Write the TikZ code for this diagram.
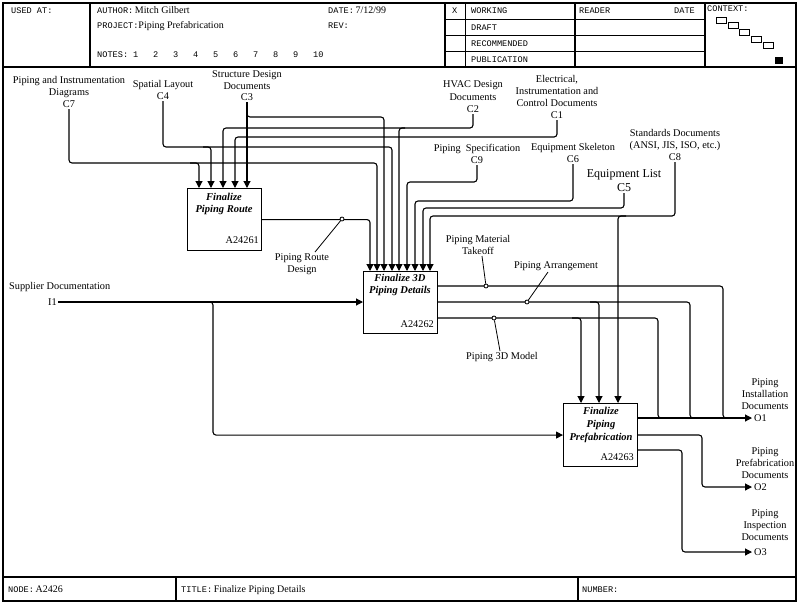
\documentclass[tikz,border=0pt]{standalone}
\usepackage{fontspec}
\setmainfont{Liberation Serif}
\newfontfamily\hdrfont{Liberation Mono}
\newcommand\hsz{\hdrfont\fontsize{8.6}{9}\selectfont}
\usetikzlibrary{arrows.meta}
\begin{document}
\begin{tikzpicture}[x=1pt,y=-1pt,
  flow/.style={line width=1.1pt, rounded corners=3pt, -{Triangle[width=7pt,length=7pt]}},
  wire/.style={line width=1.1pt, rounded corners=3pt},
  leader/.style={line width=0.8pt},
  dot/.style={circle, draw, fill=white, inner sep=0pt, minimum size=4pt, line width=0.8pt},
  actbox/.style={draw, line width=1.1pt, anchor=north west, minimum width=74pt, minimum height=62pt, inner sep=0pt},
  lbl/.style={font=\fontsize{10.3}{12}\selectfont, align=center, inner sep=1pt},
  ttl/.style={font=\fontsize{10.5}{12.5}\selectfont\bfseries\itshape, align=center, inner sep=0pt},
  num/.style={font=\fontsize{10.3}{12}\selectfont, inner sep=0pt, anchor=base east},
  hl/.style={font=\hsz, inner sep=0pt, anchor=base west},
  hv/.style={font=\fontsize{10}{11}\selectfont, inner sep=0pt, anchor=base west},
  frame/.style={line width=1.1pt},
  thinframe/.style={line width=0.8pt}
]
\useasboundingbox (0,0) rectangle (800,606);

% ---------- frame ----------
\draw[frame] (3,3) rectangle (796,601);
\draw[frame] (3,67) -- (796,67);
\draw[frame] (90,3) -- (90,67);
\draw[frame] (445,3) -- (445,67);
\draw[thinframe] (465,3) -- (465,67);
\draw[frame] (575,3) -- (575,67);
\draw[frame] (705,3) -- (705,67);
\foreach \yy in {19,35,51} \draw[thinframe] (445,\yy) -- (705,\yy);
\draw[frame] (3,577) -- (796,577);
\draw[frame] (176,577) -- (176,601);
\draw[frame] (578,577) -- (578,601);

% ---------- header texts ----------
\node[hl] (hused) at (11,13) {USED AT:};
\node[hv] (hauth) at (97,13) {{\hsz AUTHOR:}\,Mitch Gilbert};
\node[hv] (hproj) at (97,28) {{\hsz PROJECT:}Piping Prefabrication};
\node[hl] (hnotes) at (97,57) {NOTES:};
\foreach \n [count=\i] in {1,...,10}
  \node[hl] (hn\i) at ({113+20*\i},57) {\n};
\node[hv] (hdate) at (328,13) {{\hsz DATE:}\,7/12/99};
\node[hl] (hrev) at (328,28) {REV:};
\node[hl] (hx) at (452,13.5) {X};
\node[hl] (hwork) at (471,13.5) {WORKING};
\node[hl] (hdraft) at (471,30) {DRAFT};
\node[hl] (hrec) at (471,46) {RECOMMENDED};
\node[hl] (hpub) at (471,62) {PUBLICATION};
\node[hl] (hread) at (579,13.5) {READER};
\node[hl] (hrdate) at (674,13.5) {DATE};
\node[hl] (hctx) at (707,11) {CONTEXT:};
\draw[thinframe] (716,17) rectangle (726,23);
\draw[thinframe] (728,22) rectangle (738,28);
\draw[thinframe] (739,29) rectangle (749,35);
\draw[thinframe] (751,36) rectangle (761,42);
\draw[thinframe] (763,42) rectangle (773,48);
\fill (775,57) rectangle (783,64);

% ---------- footer texts ----------
\node[hv] (fnode) at (8,592) {{\hsz NODE:}\,A2426};
\node[hv] (ftitle) at (181,592) {{\hsz TITLE:}\,Finalize Piping Details};
\node[hl] (fnum) at (582,592) {NUMBER:};

% ---------- activity boxes ----------
\node[actbox] (b1) at (187,188) {};
\node[ttl] (b1t) at (224,204) {Finalize\\Piping Route};
\node[num] (b1n) at (259,243) {A24261};
\node[actbox] (b2) at (363,271) {};
\node[ttl] (b2t) at (400,285) {Finalize 3D\\Piping Details};
\node[num] (b2n) at (434,327) {A24262};
\node[actbox, minimum height=63pt] (b3) at (563,403) {};
\node[ttl, font=\fontsize{10.5}{13}\selectfont\bfseries\itshape] (b3t) at (601,425) {Finalize\\Piping\\Prefabrication};
\node[num] (b3n) at (634,460) {A24263};

% ---------- boundary labels ----------
\node[lbl, anchor=south] (c7) at (69,109) {Piping and Instrumentation\\Diagrams\\C7};
\node[lbl, anchor=south] (c4) at (163,101) {Spatial Layout\\C4};
\node[lbl, anchor=south, font=\fontsize{10.3}{11.5}\selectfont] (c3) at (247,102) {Structure Design\\Documents\\C3};
\node[lbl, anchor=south, font=\fontsize{10.3}{12.5}\selectfont] (c2) at (473,114) {HVAC Design\\Documents\\C2};
\node[lbl, anchor=south, font=\fontsize{10.3}{12}\selectfont] (c1) at (557,120) {Electrical,\\Instrumentation and\\Control Documents\\C1};
\node[lbl, anchor=south] (c9) at (477,165) {Piping\ \ Specification\\C9};
\node[lbl, anchor=south] (c6) at (573,164) {Equipment Skeleton\\C6};
\node[lbl, anchor=south, font=\fontsize{12}{14}\selectfont] (c5) at (624,193) {Equipment List\\C5};
\node[lbl, anchor=south] (c8) at (675,162) {Standards Documents\\(ANSI, JIS, ISO, etc.)\\C8};
\node[lbl, anchor=base west] (i1l) at (8,289) {Supplier Documentation};
\node[lbl, anchor=east] (i1) at (58,302) {I1};
\node[lbl, anchor=west, inner sep=2pt] (o1) at (752,418) {O1};
\node[lbl, anchor=west, inner sep=2pt] (o2) at (752,487) {O2};
\node[lbl, anchor=west, inner sep=2pt] (o3) at (752,552) {O3};
\node[lbl, anchor=south] (o1l) at (765,411) {Piping\\Installation\\Documents};
\node[lbl, anchor=south] (o2l) at (765,480) {Piping\\Prefabrication\\Documents};
\node[lbl, anchor=south] (o3l) at (765,542) {Piping\\Inspection\\Documents};

% ---------- internal labels ----------
\node[lbl, anchor=north] (prd) at (302,252) {Piping Route\\Design};
\node[lbl, anchor=south] (pmt) at (478,256) {Piping Material\\Takeoff};
\node[lbl, anchor=south] (pa) at (556,272) {Piping Arrangement};
\node[lbl, anchor=north] (p3d) at (502,351) {Piping 3D Model};

% ---------- controls ----------
\draw[flow] (c7.south) |- (377,163) -- (b2.north -| 377,0);
\draw[flow] (190,163) -| (b1.north -| 199,0);
\draw[flow] (c4.south) |- (392,147) -- (b2.north -| 392,0);
\draw[flow] (203,147) -| (b1.north -| 211,0);
\draw[flow] (c3.south) -- (b1.north -| 247,0);
\draw[flow] (247,110) |- (384,117) -- (b2.north -| 384,0);
\draw[flow] (c2.south) |- (223,128) -- (b1.north -| 223,0);
\draw[flow] (405,128) -| (b2.north -| 399,0);
\draw[flow] (c1.south) |- (235,137) -- (b1.north -| 235,0);
\draw[flow] (c9.south) |- (407,182) -- (b2.north -| 407,0);
\draw[flow] (c6.south) |- (415,201) -- (b2.north -| 415,0);
\draw[flow] (c5.south) |- (423,208) -- (b2.north -| 423,0);
\draw[flow] (c8.south) |- (430,216) -- (b2.north -| 430,0);
\draw[flow] (626,216) -| (b3.north -| 618,0);

% ---------- flows between activities ----------
\draw[flow] (b1.east) -| (b2.north -| 370,0);
\draw[flow] (i1.east) -- (b2.west |- i1.east);
\draw[flow] (205,302) -| (b3.west -| 213,0) -- (b3.west);
\draw[wire] (b2.east |- 0,286) -| (723,418) -- (740,418);
\draw[wire] (b2.east |- 0,302) -| (690,418) -- (740,418);
\draw[flow] (590,302) -| (b3.north -| 599,0);
\draw[wire] (b2.east |- 0,318) -| (658,418) -- (700,418);
\draw[flow] (572,318) -| (b3.north -| 581,0);
\draw[flow] (b3.east |- o1.west) -- (o1.west);
\draw[flow] (b3.east |- 0,435) -| (702,487) -- (o2.west);
\draw[flow] (b3.east |- 0,450) -| (682,552) -- (o3.west);

% ---------- dots and leaders ----------
\node[dot] (d1) at (342,219) {};
\node[dot] (d2) at (486,286) {};
\node[dot] (d3) at (527,302) {};
\node[dot] (d4) at (494,318) {};
\draw[leader] (prd.north -| 315,0) -- (d1);
\draw[leader] (pmt.south -| 482,0) -- (d2);
\draw[leader] (pa.south -| 548,0) -- (d3);
\draw[leader] (p3d.north -| 500,0) -- (d4);
\end{tikzpicture}
\end{document}
